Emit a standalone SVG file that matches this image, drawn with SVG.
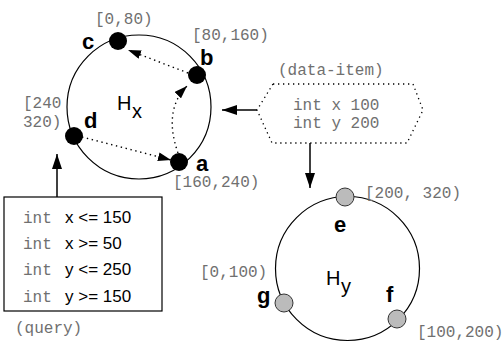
<svg xmlns="http://www.w3.org/2000/svg" width="504" height="343" viewBox="0 0 504 343">
<defs>
<style>
.ring{fill:none;stroke:#000;stroke-width:1.2}
.bn{fill:#000}
.gn{fill:#bbb;stroke:#333;stroke-width:1}
.lbl{font-family:"Liberation Sans",Arial,sans-serif;font-weight:bold;font-size:22px;fill:#000}
.mono{font-family:"Liberation Mono","Courier New",monospace;font-size:16px;fill:#707070}
.sans{font-family:"Liberation Sans",Arial,sans-serif;font-size:17px;fill:#000}
.h{font-family:"Liberation Sans",Arial,sans-serif;font-size:20px;fill:#000}
.sol{fill:none;stroke:#000;stroke-width:1.5}
.dot{fill:none;stroke:#000;stroke-width:1.4;stroke-dasharray:1.4 3.6}
</style>
<marker id="ah" markerUnits="userSpaceOnUse" markerWidth="15" markerHeight="10" refX="15" refY="5" orient="auto"><path d="M0,0 L15,5 L0,10 z" fill="#000"/></marker>
<marker id="ahs" markerUnits="userSpaceOnUse" markerWidth="13" markerHeight="9" refX="13" refY="4.5" orient="auto"><path d="M0,0 L13,4.5 L0,9 z" fill="#000"/></marker>
</defs>

<g id="Hx">
<circle class="ring" cx="139" cy="107" r="72"/>
<text class="h" x="117" y="110">H</text><text class="h" x="132" y="118">x</text>
</g>

<g id="Hy">
<circle class="ring" cx="347.5" cy="268.5" r="72"/>
<text class="h" x="326" y="285">H</text><text class="h" x="341" y="293">y</text>
</g>

<g id="connectors">
<path class="dot" d="M188,73 L128,50" marker-end="url(#ahs)"/>
<path class="dot" d="M178,153 Q163,110 187,86" marker-end="url(#ahs)"/>
<path class="dot" d="M82,137 L171,160" marker-end="url(#ahs)"/>
<path class="sol" d="M257,110 L222,110" marker-end="url(#ah)"/>
<path class="sol" d="M310,143 L310,188" marker-end="url(#ah)"/>
<path class="sol" d="M57,197 L57,154" marker-end="url(#ah)"/>
</g>

<g id="node-c">
<circle class="bn" cx="118" cy="41" r="9"/>
<text class="lbl" x="82" y="49">c</text>
<text class="mono" x="95" y="24">[0,80)</text>
</g>
<g id="node-b">
<circle class="bn" cx="197" cy="75" r="9"/>
<text class="lbl" x="200" y="65">b</text>
<text class="mono" x="192" y="40">[80,160)</text>
</g>
<g id="node-d">
<circle class="bn" cx="74" cy="136" r="9"/>
<text class="lbl" x="84" y="128">d</text>
<text class="mono" x="23" y="108">[240</text>
<text class="mono" x="23" y="127">320)</text>
</g>
<g id="node-a">
<circle class="bn" cx="179" cy="162" r="9"/>
<text class="lbl" x="196" y="171">a</text>
<text class="mono" x="173" y="187">[160,240)</text>
</g>

<g id="node-e">
<circle class="gn" cx="345" cy="197" r="9"/>
<text class="lbl" x="334" y="232">e</text>
<text class="mono" x="365" y="198">[200, 320)</text>
</g>
<g id="node-f">
<circle class="gn" cx="397" cy="319" r="9"/>
<text class="lbl" x="386" y="302">f</text>
<text class="mono" x="417" y="337">[100,200)</text>
</g>
<g id="node-g">
<circle class="gn" cx="284" cy="303" r="9"/>
<text class="lbl" x="257" y="303">g</text>
<text class="mono" x="200" y="277">[0,100)</text>
</g>

<g id="data-item">
<path d="M273,84 L413,84 L423,110 L407,143 L272,143 L257,110 Z" fill="none" stroke="#000" stroke-width="1.3" stroke-dasharray="1.3 3.7"/>
<text class="mono" x="278" y="75">(data-item)</text>
<text class="mono" x="293" y="110">int x 100</text>
<text class="mono" x="293" y="128">int y 200</text>
</g>

<g id="query">
<rect x="4" y="197" width="158" height="114" fill="#fff" stroke="#000" stroke-width="1.2"/>
<text class="mono" x="23" y="223">int</text><text class="sans" x="65" y="223">x &lt;= 150</text>
<text class="mono" x="23" y="249">int</text><text class="sans" x="65" y="249">x &gt;= 50</text>
<text class="mono" x="23" y="275">int</text><text class="sans" x="65" y="275">y &lt;= 250</text>
<text class="mono" x="23" y="302">int</text><text class="sans" x="65" y="302">y &gt;= 150</text>
<text class="mono" x="15" y="333">(query)</text>
</g>
</svg>
